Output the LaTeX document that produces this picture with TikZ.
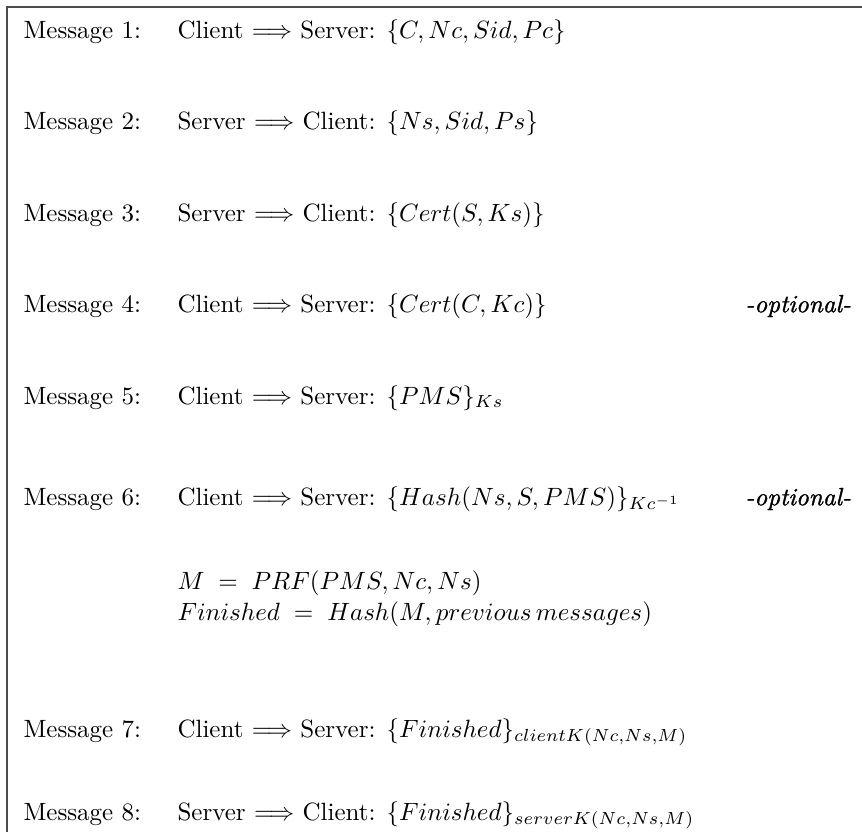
\documentclass[tikz,border=0pt]{standalone}
\usepackage{fontspec}
\newfontfamily\optfont{Latin Modern Roman}[FakeBold=1.3]
\begin{document}
\begin{tikzpicture}[x=0.4pt,y=-0.4pt,
  lbl/.style={anchor=west,inner sep=0pt,text height=7pt,text depth=2pt,font=\normalsize},
  opt/.style={lbl,font=\optfont\itshape},
  frameline/.style={draw=black!70,line width=0.8pt}]
\useasboundingbox (0,0) rectangle (862,832);
\coordinate (fl) at (7,832);
\coordinate (fc) at (7,7);
\coordinate (fr) at (862,7);
\draw[frameline] (fl) -- (fc) -- (fr);
% labels
\node[lbl] (m1) at (23,32) {Message 1:};
\node[lbl] (m2) at (23,123) {Message 2:};
\node[lbl] (m3) at (23,215) {Message 3:};
\node[lbl] (m4) at (23,306) {Message 4:};
\node[lbl] (m5) at (23,398) {Message 5:};
\node[lbl] (m6) at (23,499) {Message 6:};
\node[lbl] (m7) at (23,731) {Message 7:};
\node[lbl] (m8) at (23,814) {Message 8:};
% contents
\node[lbl] (c1) at (177,32) {Client $\Longrightarrow$ Server: $\{C, Nc, Sid, Pc\}$};
\node[lbl] (c2) at (177,123) {Server $\Longrightarrow$ Client: $\{Ns, Sid, Ps\}$};
\node[lbl] (c3) at (177,215) {Server $\Longrightarrow$ Client: $\{Cert(S, Ks)\}$};
\node[lbl] (c4) at (177,306) {Client $\Longrightarrow$ Server: $\{Cert(C, Kc)\}$};
\node[lbl] (c5) at (177,398) {Client $\Longrightarrow$ Server: $\{PMS\}_{Ks}$};
\node[lbl] (c6) at (177,499) {Client $\Longrightarrow$ Server: $\{Hash(Ns, S, PMS)\}_{Kc^{-1}}$};
\node[lbl] (eq1) at (177,583) {$M\;=\;PRF(PMS, Nc, Ns)$};
\node[lbl] (eq2) at (177,614) {$Finished\;=\;Hash(M, previous\,messages)$};
\node[lbl] (c7) at (177,731) {Client $\Longrightarrow$ Server: $\{Finished\}_{clientK(Nc,Ns,M)}$};
\node[lbl] (c8) at (177,814) {Server $\Longrightarrow$ Client: $\{Finished\}_{serverK(Nc,Ns,M)}$};
% optional marks
\node[opt] (o4) at (745,306) {-optional-};
\node[opt] (o6) at (745,499) {-optional-};
\end{tikzpicture}
\end{document}
